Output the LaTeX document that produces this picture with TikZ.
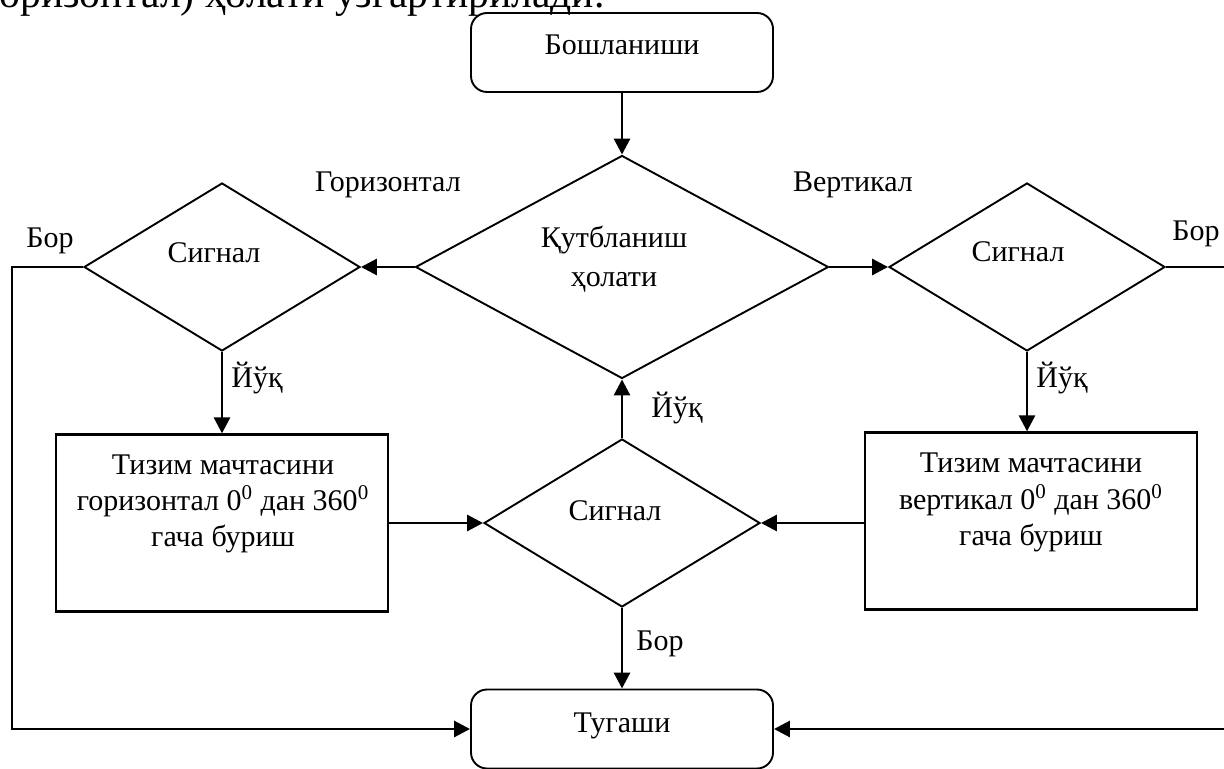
\documentclass[tikz,border=0pt]{standalone}
\usepackage{fontspec}
\setmainfont{Liberation Serif}
\usetikzlibrary{shapes.geometric,arrows.meta}

\begin{document}
\begin{tikzpicture}[x=0.5pt,y=-0.5pt,
  every node/.style={font=\fontsize{15}{18}\selectfont, inner sep=0pt},
  conn/.style={line width=1.45pt,-{Triangle[length=8pt,width=8pt]}},
  dia/.style={draw, diamond, line width=0.95pt, minimum width=138pt, minimum height=84pt},
  bigdia/.style={draw, diamond, line width=0.95pt, minimum width=206.5pt, minimum height=111.5pt},
  term/.style={draw, rectangle, rounded corners=8pt, line width=0.95pt, minimum width=151pt, minimum height=39.5pt},
  actbox/.style={draw, rectangle, line width=1.15pt, minimum width=166pt, minimum height=88.5pt},
  lbl/.style={anchor=base},
  inner/.style={anchor=base, align=center}
]
\clip (0,0) rectangle (1224,769);
\useasboundingbox (0,0) rectangle (1224,769);

% line of running text above the chart
\node[anchor=base west, font=\fontsize{20.8}{24}\selectfont] (prose) at (-1,8)
  {оризонтал) ҳолати ўзгартирилади.};

% shapes
\node[term] (start) at (622,52.5) {};
\node[bigdia] (pol) at (622,267) {};
\node[dia] (sl) at (222,267) {};
\node[dia] (sr) at (1027,267) {};
\node[dia] (sb) at (622,523) {};
\node[actbox] (lbox) at (222,523) {};
\node[actbox] (rbox) at (1031,521) {};
\node[term] (stop) at (622,729) {};

% texts inside shapes (multi-line texts are placed by their last baseline)
\node[lbl] (tstart) at (622,55) {Бошланиши};
\node[inner, font=\fontsize{15}{19.5}\selectfont] (tpol) at (614,287) {Қутбланиш\\ҳолати};
\node[lbl] (tsl) at (214,263) {Сигнал};
\node[lbl] (tsr) at (1018,262) {Сигнал};
\node[lbl] (tsb) at (615,520) {Сигнал};
\node[inner] (tlbox) at (223,546) {Тизим мачтасини\\горизонтал 0\textsuperscript{0} дан 360\textsuperscript{0}\\гача буриш};
\node[inner] (trbox) at (1031,545) {Тизим мачтасини\\вертикал 0\textsuperscript{0} дан 360\textsuperscript{0}\\гача буриш};
\node[lbl] (tstop) at (622,732) {Тугаши};

% branch labels
\node[lbl] (lhor) at (388,192) {Горизонтал};
\node[lbl] (lver) at (853,192) {Вертикал};
\node[lbl] (lborl) at (50,248) {Бор};
\node[lbl] (lborr) at (1196,241) {Бор};
\node[lbl] (lnol) at (257,388) {Йўқ};
\node[lbl] (lnor) at (1062,388) {Йўқ};
\node[lbl] (lnom) at (677,417) {Йўқ};
\node[lbl] (lborm) at (660,650) {Бор};

% corner points of the return lines
\coordinate (lc) at (12,500);
\coordinate (rc) at (1240,500);

% connectors
\draw[conn] (start.south) -- (pol.north);
\draw[conn] (pol.west) -- (sl.east);
\draw[conn] (pol.east) -- (sr.west);
\draw[conn] (sl.south) -- (lbox.north);
\draw[conn] (sr.south) -- (sr.south |- rbox.north);
\draw[conn] (lbox.east) -- (sb.west);
\draw[conn] (rbox.west |- sb.east) -- (sb.east);
\draw[conn] (sb.north) -- (pol.south);
\draw[conn] (sb.south) -- (stop.north);
\draw[conn] (sl.west) -| (lc) |- (stop.west);
\draw[conn] (sr.east) -| (rc) |- (stop.east);
\end{tikzpicture}
\end{document}
